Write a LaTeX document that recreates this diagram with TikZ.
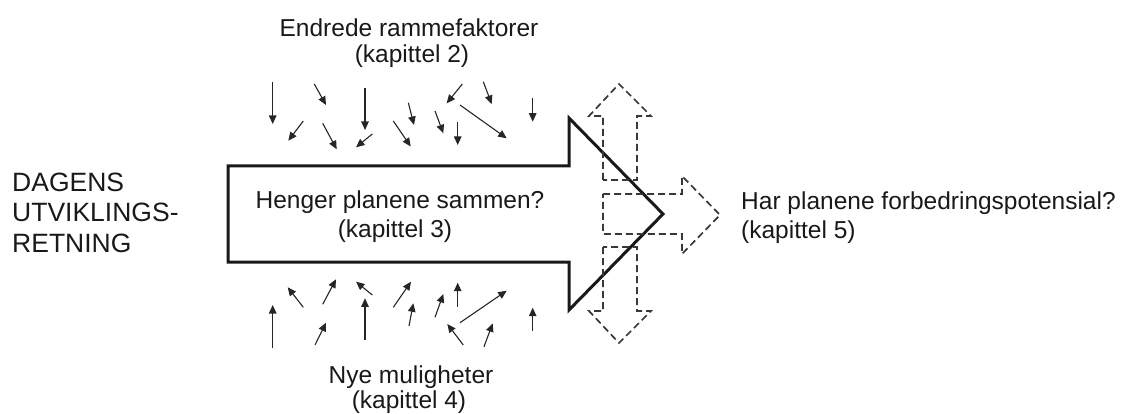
\documentclass[tikz,border=0pt]{standalone}
\usepackage{fontspec}
\setmainfont{Liberation Sans}
\usetikzlibrary{arrows.meta}
\begin{document}
\begin{tikzpicture}[x=1pt,y=-1pt,
  txt/.style={font=\fontsize{24.5}{29.5}\selectfont, inner sep=0pt, text=black!90, anchor=base},
  bigtxt/.style={font=\fontsize{26.5}{30}\selectfont, inner sep=0pt, text=black!90, anchor=base west},
  small/.style={line width=1.1pt, -{Triangle[length=8.5pt,width=7.5pt]}, black!85},
  bigarrow/.style={line width=3pt, line join=miter, black!90},
  dasharrow/.style={line width=1.7pt, dash pattern=on 7pt off 4pt, black!78, line join=miter}]
\useasboundingbox (0,0) rectangle (1127,414);
% big arrow
\draw[bigarrow] (228,166) -- (569,166) -- (569,118) -- (663,214) -- (569,310) -- (569,262) -- (228,262) -- cycle;
% dashed arrows
\draw[dasharrow] (603,180) -- (603,116) -- (589,116) -- (619,84) -- (651,116) -- (637,116) -- (637,180) -- cycle;
\draw[dasharrow] (603,247) -- (603,311) -- (589,311) -- (619,343) -- (651,311) -- (637,311) -- (637,247) -- cycle;
\draw[dasharrow] (603,194) -- (682,194) -- (682,176) -- (720,215) -- (682,254) -- (682,234) -- (603,234) -- cycle;
% top small arrows
\draw[small] (272.7,81.7) -- (272.7,124);
\draw[small] (314.3,84) -- (326,105);
\draw[small] (365,88.3) -- (365,130);
\draw[small] (303.3,121) -- (288.3,140.7);
\draw[small] (322.7,123.3) -- (336.7,149.3);
\draw[small] (372.3,134) -- (356,147.3);
\draw[small] (393.3,121) -- (410.7,146.5);
\draw[small] (408.3,102.7) -- (414,125);
\draw[small] (462.3,84) -- (446.7,103.3);
\draw[small] (483.3,81.7) -- (491.7,104);
\draw[small] (435,111) -- (443.3,133.3);
\draw[small] (457.7,121.7) -- (457.7,145);
\draw[small] (460,105) -- (506.7,138.3);
\draw[small] (532.7,97.7) -- (532.7,121.7);
% bottom small arrows
\draw[small] (272.7,348.3) -- (272.7,305);
\draw[small] (303.3,307.3) -- (287.7,287.3);
\draw[small] (322.7,304.3) -- (336,279.3);
\draw[small] (315,345) -- (326,322.7);
\draw[small] (365,340) -- (365,298.3);
\draw[small] (372.3,295) -- (356,281.7);
\draw[small] (393.3,307.3) -- (411,281.7);
\draw[small] (409,326) -- (413.3,303.3);
\draw[small] (435,317.3) -- (443.3,294);
\draw[small] (457.7,306.7) -- (457.7,282.7);
\draw[small] (460,322.7) -- (506.7,290.7);
\draw[small] (463.3,345) -- (447.3,324);
\draw[small] (484,346.7) -- (492.7,323.3);
\draw[small] (532.7,331) -- (532.7,307.7);
% texts
\node[txt] (top1) at (409,37) {Endrede rammefaktorer};
\node[txt] (top2) at (412,63) {(kapittel 2)};
\node[txt] (bot1) at (411,383) {Nye muligheter};
\node[txt] (bot2) at (409,408) {(kapittel 4)};
\node[bigtxt] (left1) at (12,192) {DAGENS};
\node[bigtxt] (left2) at (12,222) {UTVIKLINGS-};
\node[bigtxt] (left3) at (12,252) {RETNING};
\node[txt] (mid1) at (400,209) {Henger planene sammen?};
\node[txt] (mid2) at (395,237) {(kapittel 3)};
\node[txt, anchor=base west] (right1) at (741,210) {Har planene forbedringspotensial?};
\node[txt, anchor=base west] (right2) at (741,238) {(kapittel 5)};
\end{tikzpicture}
\end{document}
